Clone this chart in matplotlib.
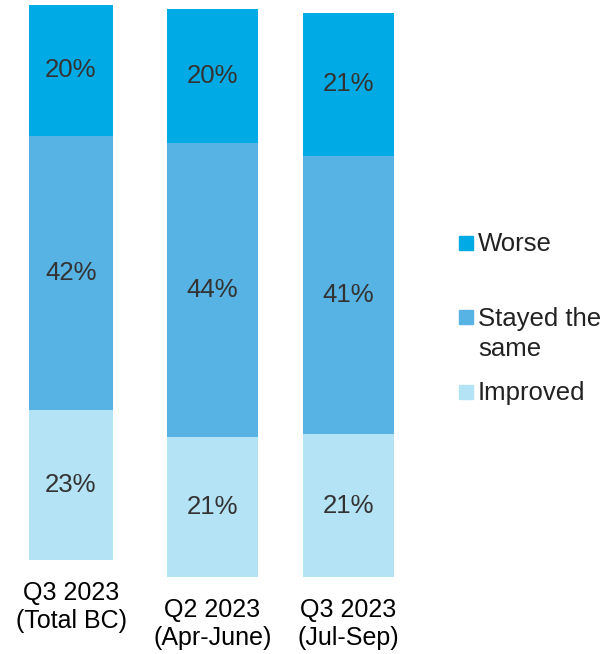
import matplotlib.pyplot as plt
from matplotlib.patches import Rectangle

plt.rcParams['font.family'] = ['Liberation Sans', 'DejaVu Sans']

categories = ["Q3 2023\n(Total BC)", "Q2 2023\n(Apr-June)", "Q3 2023\n(Jul-Sep)"]
series = ["Improved", "Stayed the same", "Worse"]
improved = [23, 21, 21]
stayed = [42, 44, 41]
worse = [20, 20, 21]
legend_labels = ["Worse", "Stayed the\nsame", "Improved"]

colors = {"Improved": "#b4e3f5", "Stayed the same": "#56b3e4", "Worse": "#00aae5"}

W, H = 606, 654
fig = plt.figure(figsize=(W / 100, H / 100), dpi=100)

# each bar sits in its own panel (pixel box: left, right, top, bottom)
boxes = [(29, 113, 5, 560), (167, 258, 9, 577), (303, 394, 13, 577)]

for i, cat in enumerate(categories):
    l, r, t, b = boxes[i]
    ax = fig.add_axes([l / W, 1 - b / H, (r - l) / W, (b - t) / H])
    vals = [improved[i], stayed[i], worse[i]]
    bottom = 0
    for name, v in zip(series, vals):
        ax.bar(0, v, width=1, bottom=bottom, color=colors[name])
        ax.text(0, bottom + v / 2, f"{v}%", ha='center', va='center',
                fontsize=18.5, color='#333333')
        bottom += v
    ax.set_xlim(-0.5, 0.5)
    ax.set_ylim(0, bottom)
    ax.set_xticks([0])
    ax.set_xticklabels([cat], fontsize=18, color='#000000', linespacing=1.22)
    ax.tick_params(axis='x', length=0, pad=15)
    ax.set_yticks([])
    for s in ax.spines.values():
        s.set_visible(False)

# legend drawn by hand to match the uneven spacing
leg_colors = [colors["Worse"], colors["Stayed the same"], colors["Improved"]]
square_y = [243, 317, 392]
base_y = [251, 326, 400]
line_gap = 30
for lab, c, yc, yb in zip(legend_labels, leg_colors, square_y, base_y):
    fig.patches.append(Rectangle((459 / W, 1 - (yc + 7) / H), 14 / W, 14 / H,
                                 transform=fig.transFigure, color=c))
    for k, line in enumerate(lab.split("\n")):
        fig.text(478 / W, 1 - (yb + k * line_gap) / H, line, fontsize=18.5,
                 color='#222222', va='baseline', ha='left')

fig.savefig("out.png", dpi=100)
